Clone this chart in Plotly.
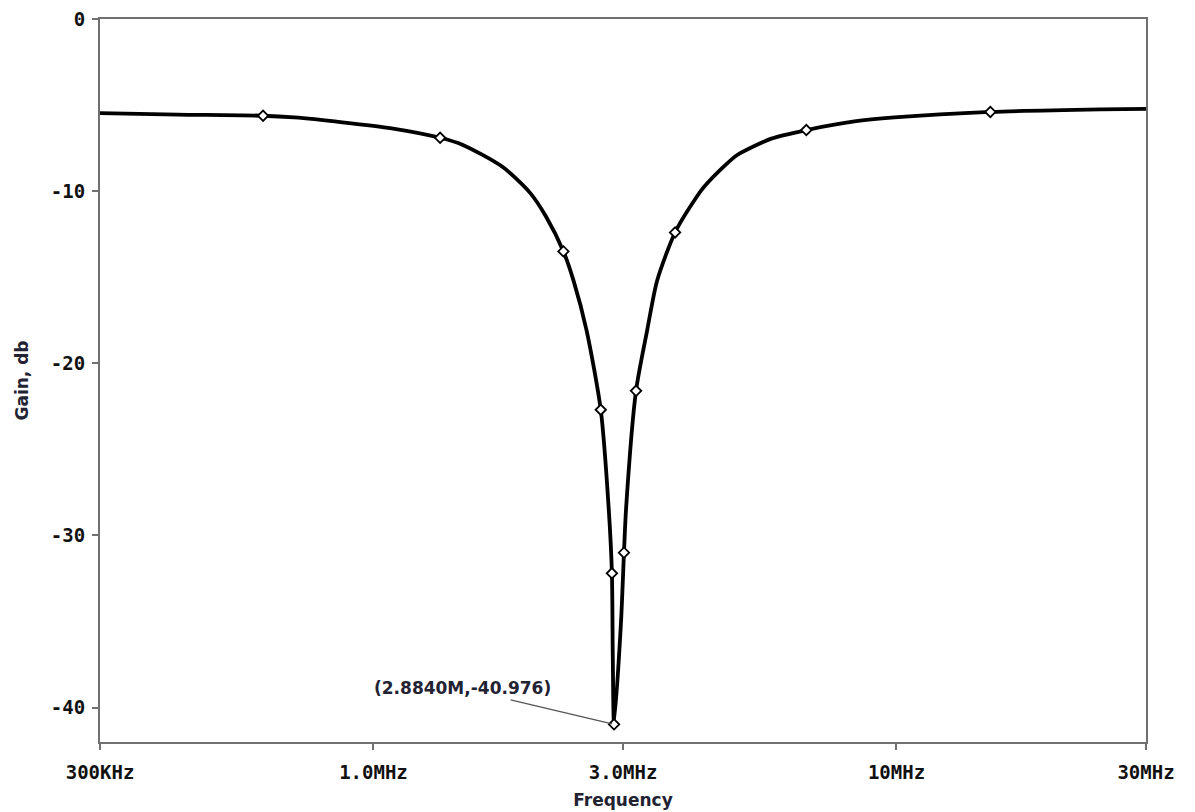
import math
import plotly.graph_objects as go

# ---- data ----
freq_hz = [300e3, 422e3, 615e3, 705e3, 872e3, 1.083e6, 1.341e6, 1.479e6, 1.767e6,
           1.993e6, 2.140e6, 2.308e6, 2.413e6, 2.556e6, 2.720e6, 2.818e6, 2.857e6,
           2.868e6, 2.884e6, 2.973e6, 3.013e6, 3.040e6, 3.177e6, 3.336e6, 3.486e6,
           3.773e6, 4.157e6, 4.288e6, 4.684e6, 4.960e6, 5.763e6, 6.724e6, 8.308e6,
           9.91e6, 15.12e6, 24.57e6, 30e6]
gain_db = [-5.47, -5.55, -5.62, -5.72, -6.0, -6.35, -6.9, -7.3, -8.6,
           -10.1, -11.5, -13.5, -15.2, -18.1, -22.7, -28.5, -32.2,
           -37.0, -40.976, -35.1, -31.0, -28.5, -21.6, -18.1, -15.2,
           -12.4, -10.3, -9.75, -8.55, -7.9, -6.95, -6.45, -5.95,
           -5.72, -5.4, -5.25, -5.22]

marker_freq = [615e3, 1.341e6, 2.308e6, 2.720e6, 2.857e6, 2.884e6, 3.013e6,
               3.177e6, 3.773e6, 6.724e6, 15.12e6]
marker_gain = [-5.62, -6.9, -13.5, -22.7, -32.2, -40.976, -31.0,
               -21.6, -12.4, -6.45, -5.4]

x_tickvals = [300e3, 1e6, 3e6, 10e6, 30e6]
x_ticktext = ["300KHz", "1.0MHz", "3.0MHz", "10MHz", "30MHz"]
y_tickvals = [0, -10, -20, -30, -40]
y_ticktext = ["0", "-10", "-20", "-30", "-40"]

min_freq = 2.884e6
min_gain = -40.976
min_label = "(2.8840M,-40.976)"

# ---- figure ----
AXIS = "#707070"
TXT = "#222233"
tickfont = dict(family="DejaVu Sans Mono", size=19, color="#111111", weight="bold")
titlefont = dict(family="DejaVu Sans", size=17, color=TXT, weight="bold")

fig = go.Figure()
fig.add_trace(go.Scatter(x=freq_hz, y=gain_db, mode="lines",
                         line=dict(color="black", width=3.8, shape="spline", smoothing=0.7),
                         hoverinfo="skip", showlegend=False))
fig.add_trace(go.Scatter(x=marker_freq, y=marker_gain, mode="markers",
                         marker=dict(symbol="diamond", size=8, color="white",
                                     line=dict(color="black", width=1.8)),
                         showlegend=False))

fig.add_annotation(x=math.log10(min_freq), y=min_gain, xref="x", yref="y",
                   text=min_label, showarrow=True, arrowhead=0, arrowwidth=1.3,
                   arrowcolor="#555555", ax=-152, ay=-36, standoff=2,
                   font=dict(family="DejaVu Sans", size=17, color=TXT, weight="bold"))

fig.update_xaxes(type="log", range=[math.log10(300e3), math.log10(30e6)],
                 tickvals=x_tickvals, ticktext=x_ticktext, tickfont=tickfont,
                 ticks="outside", ticklen=6, tickwidth=1.5, tickcolor=AXIS,
                 showline=True, linecolor=AXIS, linewidth=2, mirror=True,
                 showgrid=False, zeroline=False, ticklabelstandoff=6, automargin=False,
                 title=dict(text="Frequency", font=titlefont, standoff=12))
fig.update_yaxes(range=[-42, 0], tickvals=y_tickvals, ticktext=y_ticktext,
                 tickfont=tickfont, ticks="outside", ticklen=6, tickwidth=1.5,
                 tickcolor=AXIS, showline=True, linecolor=AXIS, linewidth=2,
                 mirror=True, showgrid=False, zeroline=False, ticklabelstandoff=3,
                 automargin=False,
                 title=dict(text="Gain, db", font=titlefont, standoff=18))

fig.update_layout(width=1195, height=812, plot_bgcolor="white", paper_bgcolor="white",
                  margin=dict(l=100, r=49, t=19, b=70))

fig.write_html("out.html")
